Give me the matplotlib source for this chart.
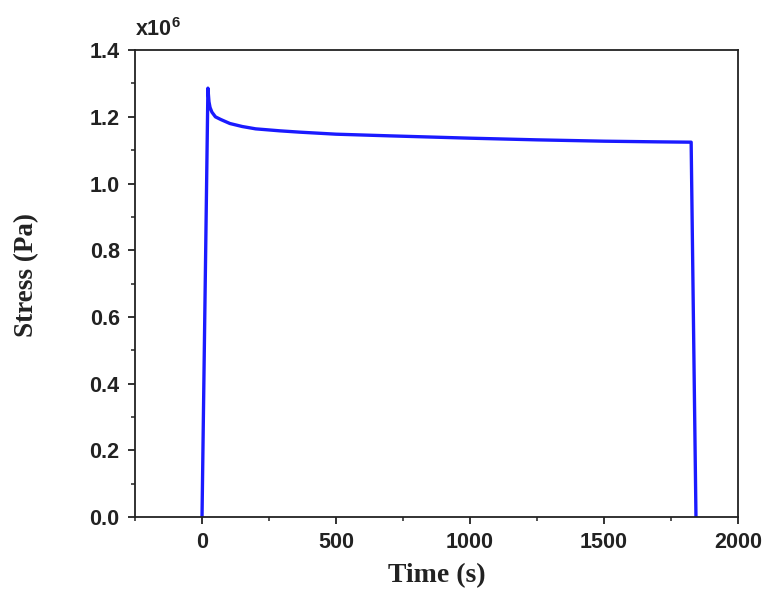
import numpy as np
import matplotlib.pyplot as plt
from matplotlib.ticker import MultipleLocator, FuncFormatter

# Stress relaxation curve (time in s, stress in Pa)
time_s = [0, 22, 26, 30, 37, 50, 70, 104, 150, 200, 291, 366, 500, 700,
          1000, 1250, 1500, 1700, 1825, 1843]
stress_pa = [0.0, 1.286e6, 1.245e6, 1.228e6, 1.214e6, 1.200e6, 1.192e6,
             1.180e6, 1.171e6, 1.164e6, 1.158e6, 1.154e6, 1.148e6, 1.143e6,
             1.136e6, 1.131e6, 1.127e6, 1.125e6, 1.124e6, 0.0]

plt.rcParams['mathtext.fontset'] = 'custom'
plt.rcParams['mathtext.bf'] = 'Liberation Sans:bold'
plt.rcParams['mathtext.rm'] = 'Liberation Sans:bold'

fig = plt.figure(figsize=(7.68, 5.97), dpi=100)
ax = fig.add_axes([0.1758, 0.134, 0.7852, 0.782])

ax.plot(time_s, stress_pa, color='#1a1aff', linewidth=2.4)

ax.set_xlim(-250, 2000)
ax.set_ylim(0, 1.4e6)
ax.xaxis.set_major_locator(MultipleLocator(500))
ax.xaxis.set_minor_locator(MultipleLocator(250))
ax.yaxis.set_major_locator(MultipleLocator(0.2e6))
ax.yaxis.set_minor_locator(MultipleLocator(0.1e6))
ax.yaxis.set_major_formatter(FuncFormatter(lambda v, p: f"{v / 1e6:.1f}"))

tick_font = {'family': 'Liberation Sans', 'weight': 'bold', 'size': 15.5}
for lab in ax.get_xticklabels() + ax.get_yticklabels():
    lab.set_fontproperties(tick_font)
ax.tick_params(which='major', direction='out', length=5, width=1.3,
               colors='#222222', labelcolor='#222222', pad=6)
ax.tick_params(which='minor', direction='out', length=3, width=1.1, colors='#222222')
ax.tick_params(top=False, right=False)
for s in ax.spines.values():
    s.set_linewidth(1.3)
    s.set_color('#222222')

ax.set_xlabel("Time (s)", fontfamily='Liberation Serif', fontweight='bold',
              fontsize=20, color='#222222', labelpad=7)
ax.set_ylabel("Stress (Pa)", fontfamily='Liberation Serif', fontweight='bold',
              fontsize=19.5, color='#222222')
ax.yaxis.set_label_coords(-0.159, 0.518)

ax.text(0.0, 1.02, r"x10$^{\mathbf{6}}$", transform=ax.transAxes, ha='left', va='bottom',
        fontfamily='Liberation Sans', fontweight='bold', fontsize=15.5, color='#222222')

plt.savefig("out.png", dpi=100)
